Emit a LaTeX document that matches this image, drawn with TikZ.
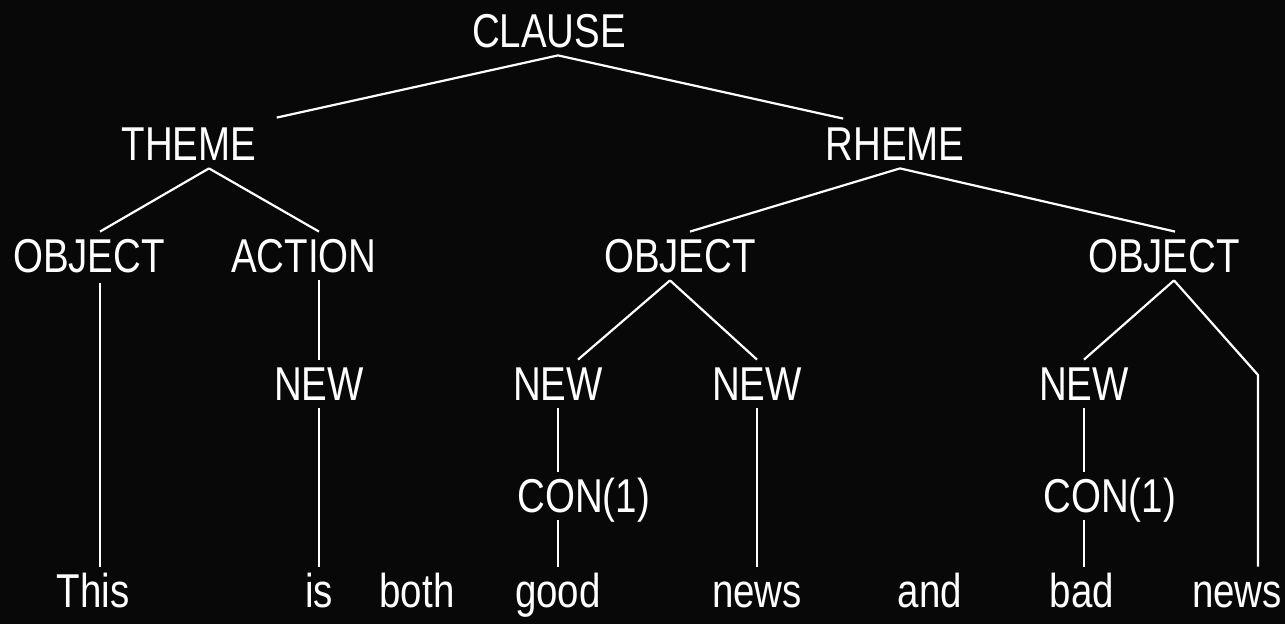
\documentclass[tikz,border=0pt]{standalone}
\usepackage{fontspec}
\newfontfamily\treefont{Liberation Sans}[FakeStretch=0.81]
\definecolor{nightbg}{RGB}{8,8,8}
\definecolor{chalk}{RGB}{255,255,255}
\usetikzlibrary{calc}

\begin{document}
\begin{tikzpicture}[x=0.5pt,y=-0.5pt,
    lbl/.style={text=chalk, font=\treefont\fontsize{23.75}{28}\selectfont,
        inner xsep=1pt, inner ysep=3.5pt, text height=17pt, text depth=0pt, anchor=base},
    branch/.style={draw=chalk, line width=1.1pt}]
    % Background
    \fill[nightbg] (0,0) rectangle (1285,624);
    \useasboundingbox (0,0) rectangle (1285,624);

    % Clause, theme and rheme
    \node[lbl] (clause) at (549,48) {CLAUSE};
    \node[lbl] (theme) at (189,161) {THEME};
    \node[lbl] (rheme) at (895,161) {RHEME};

    % Objects and action
    \node[lbl] (objl) at (89,273) {OBJECT};
    \node[lbl] (action) at (304,273) {ACTION};
    \node[lbl] (objm) at (680,273) {OBJECT};
    \node[lbl] (objr) at (1164,273) {OBJECT};

    % New information
    \node[lbl] (newa) at (319,401) {NEW};
    \node[lbl] (newb) at (558,401) {NEW};
    \node[lbl] (newc) at (757,401) {NEW};
    \node[lbl] (newd) at (1084,401) {NEW};
    \node[lbl, anchor=base west] (cona) at (515,513) {CON(1)};
    \node[lbl, anchor=base west] (conb) at (1041,513) {CON(1)};

    % Words of the sentence
    \foreach \x/\w/\n in {93/This/this, 319/is/is, 417/both/both, 558/good/good,
        757/news/newsa, 930/and/and, 1082/bad/bad, 1237/news/newsb}
        \node[lbl] (\n) at (\x,608) {\w};

    % Branches
    \draw[branch] ([shift={(9,0)}]clause.south) -- ([shift={(18,-2)}]theme.north east);
    \draw[branch] ([shift={(9,0)}]clause.south) -- ([shift={(20,-1)}]rheme.north west);
    \draw[branch] ([shift={(20,0)}]theme.south) -- ([shift={(11,0)}]objl.north);
    \draw[branch] ([shift={(20,0)}]theme.south) -- ([shift={(15,0)}]action.north);
    \draw[branch] ([shift={(5,0)}]rheme.south) -- ([shift={(10,0)}]objm.north);
    \draw[branch] ([shift={(5,0)}]rheme.south) -- ([shift={(11,0)}]objr.north);

    \draw[branch] ([shift={(11,3)}]objl.south) -- ([shift={(7,0)}]this.north);
    \draw[branch] ([shift={(15,0)}]action.south) -- (newa.north);
    \draw[branch] (newa.south) -- (is.north);

    \draw[branch] ([shift={(-10,0)}]objm.south) -- ([shift={(20,0)}]newb.north);
    \draw[branch] ([shift={(-10,0)}]objm.south) -- (newc.north);
    \draw[branch] (newb.south) -- (newb.south |- cona.north);
    \draw[branch] (newb.south |- cona.south) -- (newb.south |- good.north);
    \draw[branch] (newc.south) -- (newsa.north);

    \coordinate (bend) at (1258,375);
    \draw[branch] ([shift={(10,0)}]objr.south) -- (newd.north);
    \draw[branch] ([shift={(10,0)}]objr.south) -- (bend) -- (bend |- newsb.north);
    \draw[branch] (newd.south) -- (newd.south |- conb.north);
    \draw[branch] (newd.south |- conb.south) -- (newd.south |- bad.north);
\end{tikzpicture}
\end{document}
